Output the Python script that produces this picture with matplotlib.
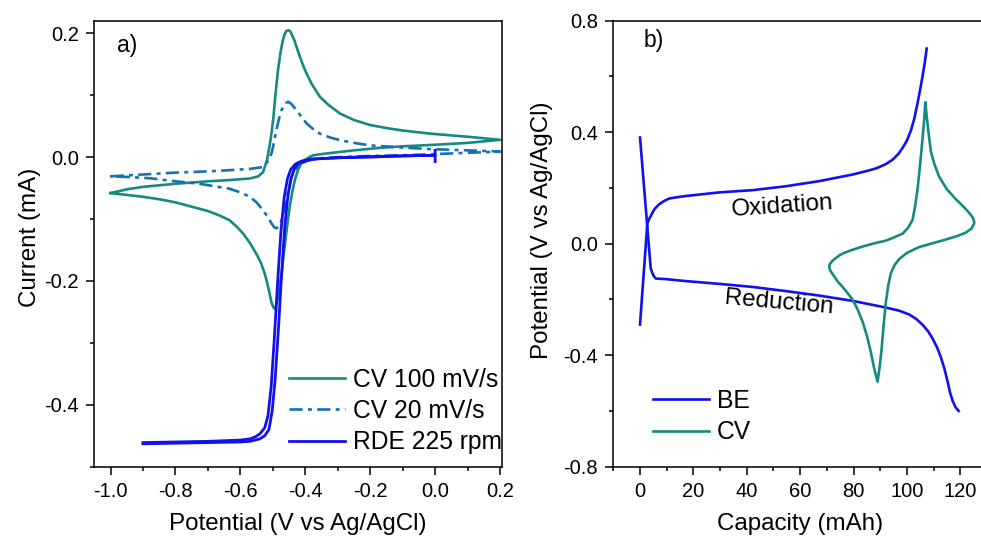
import matplotlib
matplotlib.use("Agg")
import matplotlib.pyplot as plt
from matplotlib.ticker import MultipleLocator, FormatStrFormatter

plt.rcParams['font.family'] = ['Liberation Sans', 'DejaVu Sans']

# ---- panel a) data: potential (V vs Ag/AgCl), current (mA)
cv100_x = [-1.0, -0.95, -0.9, -0.8, -0.7, -0.633, -0.571, -0.545, -0.530, -0.518, -0.507,
           -0.499, -0.492, -0.484, -0.476, -0.469, -0.464, -0.458, -0.451, -0.445, -0.440,
           -0.433, -0.427, -0.415, -0.405, -0.396, -0.38, -0.355, -0.33, -0.294, -0.25,
           -0.201, -0.15, -0.1, -0.016, 0.1, 0.2,
           0.1, 0.0, -0.1, -0.17, -0.25, -0.3, -0.35, -0.375, -0.386, -0.400, -0.412,
           -0.422, -0.432, -0.440, -0.448, -0.454, -0.460, -0.467, -0.473, -0.479, -0.484,
           -0.490, -0.494, -0.499, -0.505, -0.510, -0.517, -0.525, -0.537, -0.551, -0.570,
           -0.592, -0.612, -0.633, -0.665, -0.7, -0.75, -0.8, -0.85, -0.9, -0.95, -1.0]
cv100_y = [-0.058, -0.052, -0.048, -0.043, -0.039, -0.037, -0.0345, -0.031, -0.024, -0.005, 0.0275,
           0.060, 0.100, 0.141, 0.170, 0.189, 0.198, 0.204, 0.205, 0.202, 0.196,
           0.188, 0.178, 0.160, 0.146, 0.135, 0.118, 0.0975, 0.085, 0.0707, 0.060,
           0.052, 0.047, 0.043, 0.038, 0.033, 0.028,
           0.023, 0.020, 0.0175, 0.015, 0.011, 0.008, 0.005, 0.003, 0.0005, -0.004, -0.010,
           -0.020, -0.037, -0.056, -0.080, -0.103, -0.129, -0.160, -0.188, -0.210, -0.226,
           -0.240, -0.245, -0.242, -0.233, -0.220, -0.204, -0.188, -0.170, -0.156, -0.139,
           -0.123, -0.112, -0.102, -0.094, -0.087, -0.080, -0.073, -0.068, -0.064, -0.061, -0.058]

cv20_x = [-1.0, -0.9, -0.8, -0.7, -0.633, -0.571, -0.53, -0.515, -0.504, -0.496, -0.489,
          -0.481, -0.473, -0.467, -0.462, -0.453, -0.443, -0.435, -0.427, -0.41, -0.396,
          -0.375, -0.355, -0.325, -0.294, -0.25, -0.201, -0.1, -0.016, 0.1, 0.2,
          0.1, 0.0, -0.1, -0.2, -0.3, -0.36, -0.39, -0.41, -0.425, -0.443, -0.450, -0.458,
          -0.466, -0.473, -0.482, -0.489, -0.496, -0.504, -0.515, -0.530, -0.550, -0.571,
          -0.6, -0.633, -0.726, -0.8, -0.88, -0.95, -1.0]
cv20_y = [-0.031, -0.028, -0.025, -0.023, -0.021, -0.019, -0.016, -0.006, 0.006, 0.025, 0.044,
          0.062, 0.076, 0.083, 0.087, 0.0895, 0.086, 0.081, 0.076, 0.064, 0.0545,
          0.045, 0.038, 0.032, 0.0275, 0.023, 0.019, 0.0155, 0.013, 0.011, 0.009,
          0.007, 0.005, 0.003, 0.002, 0.0, -0.002, -0.005, -0.010, -0.018, -0.032, -0.050, -0.070,
          -0.088, -0.102, -0.112, -0.115, -0.113, -0.107, -0.097, -0.086, -0.073, -0.064,
          -0.057, -0.051, -0.043, -0.039, -0.034, -0.032, -0.031]

rde1_x = [-0.9, -0.8, -0.7, -0.6, -0.57, -0.555, -0.54, -0.525, -0.515, -0.505, -0.495, -0.485,
          -0.475, -0.465, -0.455, -0.445, -0.43, -0.41, -0.38, -0.3, -0.2, -0.1, 0.0, 0.0]
rde1_y = [-0.461, -0.460, -0.459, -0.457, -0.455, -0.452, -0.447, -0.437, -0.418, -0.37, -0.29,
          -0.20, -0.12, -0.065, -0.035, -0.020, -0.011, -0.006, -0.003, -0.001, 0.0, 0.002, 0.003, 0.011]
rde2_x = [-0.9, -0.8, -0.7, -0.6, -0.57, -0.555, -0.54, -0.525, -0.512, -0.502, -0.493, -0.483,
          -0.473, -0.463, -0.453, -0.443, -0.433, -0.42, -0.40, -0.37, -0.3, -0.2, -0.1, 0.0, 0.0]
rde2_y = [-0.463, -0.462, -0.461, -0.460, -0.459, -0.457, -0.455, -0.450, -0.440, -0.41, -0.36,
          -0.28, -0.19, -0.11, -0.06, -0.033, -0.018, -0.010, -0.006, -0.003, -0.001, 0.001, 0.002,
          0.003, -0.007]

# ---- panel b) data: capacity (mAh), potential (V vs Ag/AgCl)
be_ox_x = [0, 2.75, 3.5, 4.6, 5.5, 7.1, 9.0, 10.9, 14.0, 17.1, 29.6, 42.1, 54.6, 67.1, 79.6,
           85.0, 88.4, 92.0, 94.6, 96.8, 98.4, 100.0, 101.5, 102.8, 104.0, 105.0, 105.9, 106.7, 107.4]
be_ox_y = [-0.29, 0.073, 0.090, 0.110, 0.125, 0.141, 0.153, 0.162, 0.167, 0.171, 0.184, 0.192,
           0.206, 0.2245, 0.248, 0.261, 0.270, 0.285, 0.301, 0.322, 0.344, 0.370, 0.406, 0.450,
           0.505, 0.555, 0.603, 0.650, 0.700]
be_red_x = [0, 4.0, 4.6, 5.25, 5.9, 9.6, 17.1, 29.6, 42.1, 54.6, 67.1, 79.6, 92.1, 97.0, 100.9,
            103.5, 105.9, 108.0, 109.6, 111.3, 112.75, 114.1, 115.25, 116.2, 117.1, 118.3, 119.4]
be_red_y = [0.381, -0.088, -0.105, -0.118, -0.125, -0.127, -0.134, -0.144, -0.155, -0.170,
            -0.186, -0.205, -0.229, -0.240, -0.254, -0.270, -0.291, -0.315, -0.340, -0.372,
            -0.408, -0.450, -0.495, -0.535, -0.563, -0.588, -0.600]

cv_cap = [106.9, 106.5, 105.9, 105.0, 104.0, 103.0, 102.1, 100.5, 98.4, 95.0, 92.1, 88.0, 85.0,
          82.0, 79.6, 77.0, 75.0, 73.4, 72.0, 71.2, 70.9, 71.2, 72.1, 74.0, 75.9, 78.0, 79.6,
          81.5, 83.4, 85.0, 86.5, 87.8, 89.0, 89.8, 90.5, 91.2, 92.1, 93.0, 94.0, 95.5, 97.1,
          100.0, 104.6, 109.0, 114.6, 119.0, 122.1, 124.3, 125.25, 124.8, 123.4, 121.0, 118.4,
          115.0, 112.1, 110.3, 109.0, 108.2, 107.6, 106.9]
cv_pot = [0.505, 0.450, 0.381, 0.290, 0.196, 0.130, 0.085, 0.058, 0.036, 0.022, 0.011, 0.002,
          -0.006, -0.014, -0.022, -0.031, -0.040, -0.051, -0.062, -0.072, -0.081, -0.095, -0.108,
          -0.135, -0.155, -0.180, -0.200, -0.235, -0.280, -0.330, -0.390, -0.450, -0.495, -0.440,
          -0.380, -0.300, -0.211, -0.150, -0.105, -0.075, -0.055, -0.033, -0.012, 0.000, 0.015,
          0.028, 0.040, 0.055, 0.075, 0.092, 0.110, 0.135, 0.159, 0.195, 0.240, 0.285, 0.330,
          0.390, 0.440, 0.505]

teal = '#168a80'
dashblue = '#1570b5'
blue = '#1010f0'

fig = plt.figure(figsize=(9.81, 5.39), dpi=100)
ax1 = fig.add_axes([0.0961, 0.1341, 0.4153, 0.8275])
ax2 = fig.add_axes([0.6252, 0.1341, 0.3809, 0.8275])

# panel a
ax1.plot(cv100_x, cv100_y, color=teal, lw=1.9, label='CV 100 mV/s')
ax1.plot(cv20_x, cv20_y, color=dashblue, lw=1.9, ls=(0, (5, 2, 1.5, 2)), label='CV 20 mV/s')
ax1.plot(rde1_x, rde1_y, color=blue, lw=2.0, label='RDE 225 rpm')
ax1.plot(rde2_x, rde2_y, color=blue, lw=2.0)
ax1.set_xlim(-1.05, 0.205)
ax1.set_ylim(-0.5, 0.2204)
ax1.xaxis.set_major_locator(MultipleLocator(0.2))
ax1.xaxis.set_minor_locator(MultipleLocator(0.1))
ax1.yaxis.set_major_locator(MultipleLocator(0.2))
ax1.yaxis.set_minor_locator(MultipleLocator(0.1))
ax1.xaxis.set_major_formatter(FormatStrFormatter('%.1f'))
ax1.yaxis.set_major_formatter(FormatStrFormatter('%.1f'))
ax1.set_xlabel('Potential (V vs Ag/AgCl)', fontsize=17.4)
ax1.set_ylabel('Current (mA)', fontsize=17.4)
ax1.xaxis.set_label_coords(0.5, -0.104)
ax1.yaxis.set_label_coords(-0.131, 0.515)
ax1.text(0.08, 0.9455, 'a)', transform=ax1.transAxes, fontsize=16.5, ha='center', va='center')
ax1.legend(loc='center left', bbox_to_anchor=(0.478, 0.125), frameon=False, fontsize=17.7,
           handlelength=2.28, handletextpad=0.33, labelspacing=0.3, borderpad=0,
           borderaxespad=0)

# panel b
ax2.plot(be_ox_x, be_ox_y, color=blue, lw=1.9, label='BE')
ax2.plot(be_red_x, be_red_y, color=blue, lw=1.9)
ax2.plot(cv_cap, cv_pot, color=teal, lw=1.9, label='CV')
ax2.set_xlim(-10, 130)
ax2.set_ylim(-0.8, 0.8)
ax2.xaxis.set_major_locator(MultipleLocator(20))
ax2.xaxis.set_minor_locator(MultipleLocator(10))
ax2.yaxis.set_major_locator(MultipleLocator(0.4))
ax2.yaxis.set_minor_locator(MultipleLocator(0.2))
ax2.yaxis.set_major_formatter(FormatStrFormatter('%.1f'))
ax2.set_xlabel('Capacity (mAh)', fontsize=17.4)
ax2.set_ylabel('Potential (V vs Ag/AgCl)', fontsize=17.4)
ax2.xaxis.set_label_coords(0.5, -0.104)
ax2.yaxis.set_label_coords(-0.161, 0.531)
ax2.text(0.109, 0.9545, 'b)', transform=ax2.transAxes, fontsize=16.5, ha='center', va='center')
ax2.text(53.4, 0.132, 'Oxidation', fontsize=17.5, ha='center', va='center', rotation=4)
ax2.text(52.1, -0.211, 'Reduction', fontsize=17.5, ha='center', va='center', rotation=-5)
ax2.legend(loc='center left', bbox_to_anchor=(0.106, 0.1123), frameon=False, fontsize=17.7,
           handlelength=2.28, handletextpad=0.33, labelspacing=0.3, borderpad=0,
           borderaxespad=0)

for ax in (ax1, ax2):
    for s in ax.spines.values():
        s.set_linewidth(1.1)
    ax.tick_params(which='major', direction='out', length=6, width=1.1, labelsize=14.5, pad=5)
    ax.tick_params(which='minor', direction='out', length=3, width=1.1)

fig.savefig('out.png', dpi=100)
